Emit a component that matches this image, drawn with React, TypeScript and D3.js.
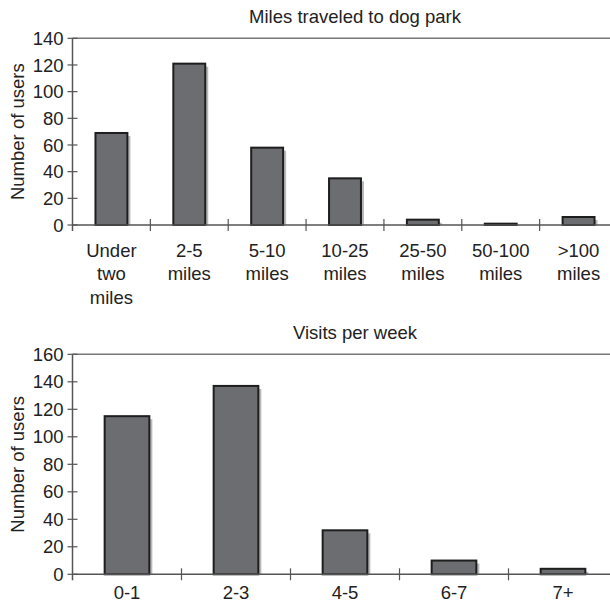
import React from "react";
import * as d3 from "d3";

const milesCategories = [["Under", "two", "miles"], ["2-5", "miles"], ["5-10", "miles"], ["10-25", "miles"], ["25-50", "miles"], ["50-100", "miles"], [">100", "miles"]];
const milesValues = [69, 121, 58, 35, 4, 1, 6];
const milesTicks = [0, 20, 40, 60, 80, 100, 120, 140];

const visitsCategories = [["0-1"], ["2-3"], ["4-5"], ["6-7"], ["7+"]];
const visitsValues = [115, 137, 32, 10, 4];
const visitsTicks = [0, 20, 40, 60, 80, 100, 120, 140, 160];

const FONT = "Arial, 'Liberation Sans', Helvetica, sans-serif";
const TEXT = "#222";
const AXIS = "#555";

type PanelProps = {
  title: string;
  cats: string[][];
  values: number[];
  ticks: number[];
  top: number;
  bottom: number;
  titleY: number;
  labelY: number;
};

function Panel({ title, cats, values, ticks, top, bottom, titleY, labelY }: PanelProps) {
  const x0 = 72.5;
  const x1 = 617.5;
  const names = cats.map((c) => c.join(" "));
  const x = d3.scaleBand<string>().domain(names).range([x0, x1]).paddingInner(0).paddingOuter(0);
  const yMax = ticks[ticks.length - 1];
  const y = d3.scaleLinear().domain([0, yMax]).range([bottom, top]);
  const bw = x.bandwidth() * 0.41;
  const boundaries = names.map((n) => x(n) as number);
  const fs = 18.5;
  return (
    <g>
      <text x={355} y={titleY} textAnchor="middle" fontSize={fs} fill={TEXT} fontFamily={FONT}>
        {title}
      </text>
      <text
        transform={`translate(24,${(top + bottom) / 2}) rotate(-90)`}
        textAnchor="middle"
        fontSize={fs}
        fill={TEXT}
        fontFamily={FONT}
      >
        Number of users
      </text>
      <line x1={x0} x2={x1} y1={y(yMax)} y2={y(yMax)} stroke="#777" strokeWidth={1.5} />
      {values.map((v, i) => {
        const cx = (x(names[i]) as number) + x.bandwidth() / 2;
        return (
          <rect key={"s" + i} x={cx - bw / 2 + 3} y={y(v) + 3} width={bw} height={Math.max(0, y(0) - y(v) - 3)} fill="#b8b8b8" />
        );
      })}
      {values.map((v, i) => {
        const cx = (x(names[i]) as number) + x.bandwidth() / 2;
        return (
          <rect key={"b" + i} x={cx - bw / 2} y={y(v)} width={bw} height={y(0) - y(v)} fill="#6c6d71" stroke="#1e1e1e" strokeWidth={2} />
        );
      })}
      <line x1={x0} x2={x0} y1={y(yMax)} y2={y(0) + 6} stroke={AXIS} strokeWidth={1.5} />
      {ticks.map((t) => (
        <g key={"yt" + t}>
          <line x1={x0 - 5} x2={x0 + 5} y1={y(t)} y2={y(t)} stroke={AXIS} strokeWidth={1.2} />
          <text x={x0 - 9} y={y(t)} dy="0.36em" textAnchor="end" fontSize={fs} fill={TEXT} fontFamily={FONT}>
            {t}
          </text>
        </g>
      ))}
      <line x1={x0} x2={x1} y1={y(0)} y2={y(0)} stroke={AXIS} strokeWidth={1.5} />
      {boundaries.slice(1).map((b, i) => (
        <line key={"xt" + i} x1={b} x2={b} y1={y(0) - 6} y2={y(0) + 6} stroke={AXIS} strokeWidth={1.2} />
      ))}
      {cats.map((lines, i) => {
        const cx = (x(names[i]) as number) + x.bandwidth() / 2;
        return (
          <text key={"xl" + i} x={cx} y={labelY} textAnchor="middle" fontSize={fs} fill={TEXT} fontFamily={FONT}>
            {lines.map((l, j) => (
              <tspan key={j} x={cx} dy={j === 0 ? 0 : 23.5}>
                {l}
              </tspan>
            ))}
          </text>
        );
      })}
    </g>
  );
}

export default function App() {
  return (
    <svg width={610} height={603} style={{ position: "absolute", left: 0, top: 0, background: "#fff" }}>
      <rect width={610} height={603} fill="#fff" />
      <Panel
        title="Miles traveled to dog park"
        cats={milesCategories}
        values={milesValues}
        ticks={milesTicks}
        top={38.3}
        bottom={225}
        titleY={23}
        labelY={256.5}
      />
      <Panel
        title="Visits per week"
        cats={visitsCategories}
        values={visitsValues}
        ticks={visitsTicks}
        top={354.3}
        bottom={574.3}
        titleY={338.5}
        labelY={599}
      />
    </svg>
  );
}
